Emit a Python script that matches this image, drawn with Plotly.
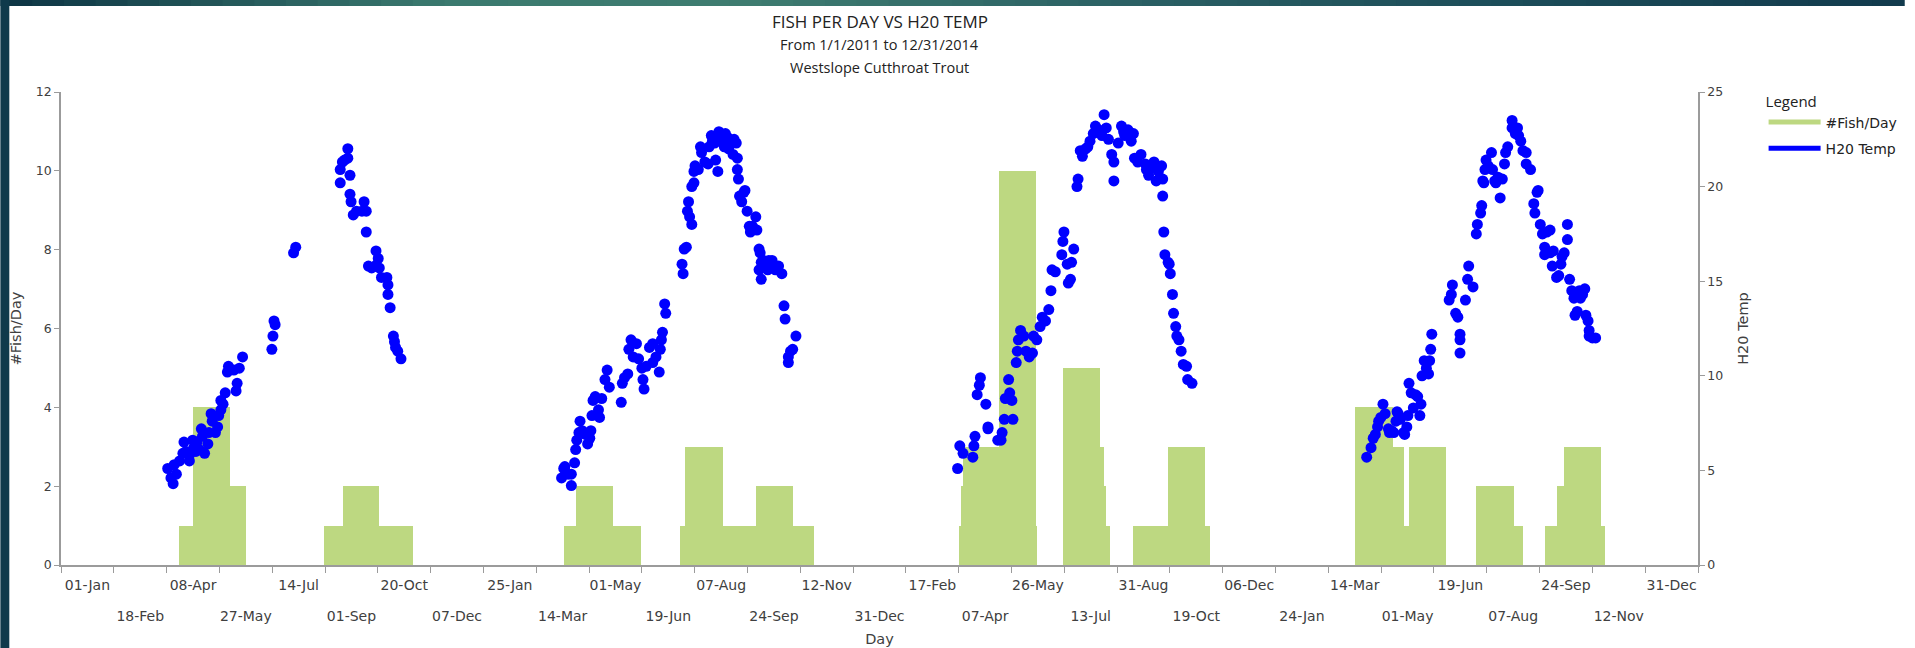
import pandas as pd
import plotly.graph_objects as go

BASE = pd.Timestamp("2011-01-01")
END = pd.Timestamp("2014-12-31")

# ---- #Fish/Day: runs of equal daily counts (days since 2011-01-01) ----
fish_start_day = [84, 97, 131, 218, 236, 269,
                  439, 450, 484, 546, 551, 586, 616, 650,
                  804, 805, 807, 840, 874, 899, 933, 937, 939, 964, 996, 1030,
                  1168, 1203, 1213, 1218, 1280, 1315, 1343, 1354, 1361, 1395]
fish_end_day = [97, 131, 146, 236, 269, 300,
                450, 484, 510, 551, 586, 616, 650, 670,
                805, 807, 840, 874, 875, 933, 937, 939, 942, 996, 1030, 1035,
                1203, 1213, 1218, 1252, 1315, 1323, 1354, 1361, 1395, 1399]
fish_per_day = [1, 4, 2, 1, 2, 1,
                1, 2, 1, 1, 3, 1, 2, 1,
                1, 2, 3, 10, 1, 5, 3, 2, 1, 1, 3, 1,
                4, 3, 1, 3, 2, 1, 1, 2, 3, 1]

# ---- H20 Temp readings (days since 2011-01-01, temperature) ----
temp_day = [
    74, 77, 79, 80, 82, 85, 88, 89, 91, 94, 95, 97, 98, 100, 101, 103, 105, 106, 108, 111, 112, 114, 115,
    118, 120, 121, 123, 123, 125, 127, 129, 130, 135, 137, 138, 140, 143,
    170, 171, 172, 173, 190, 192,
    233, 233, 235, 237, 240, 240, 242, 242, 243, 245, 248, 253, 255, 257, 257, 259, 262, 265, 266,
    268, 269, 271, 276, 277, 277, 279, 282, 283, 284, 286, 289,
    437, 439, 440, 443, 446, 446, 449, 450, 451, 453, 454, 456, 459, 461, 463, 464, 465, 466, 468,
    471, 472, 474, 477, 479, 481, 492, 493, 495, 498, 499, 501, 503, 506, 508, 511, 512, 513, 515,
    518, 521, 521, 524, 527, 528, 529, 530, 532, 533, 548, 549, 550, 552, 553, 554, 555, 557, 557,
    559, 559, 560, 563, 565, 566, 569, 572, 573, 575, 576, 578, 579, 580, 581, 582, 583, 585, 587,
    588, 590, 591, 593, 595, 596, 598, 599, 599, 600, 601, 603, 605, 606, 608, 610, 611, 613, 616,
    617, 619, 619, 620, 621, 621, 622, 623, 624, 627, 627, 628, 631, 634, 637, 640, 642, 643, 646,
    646, 648, 650, 653,
    802, 804, 807, 816, 817, 818, 820, 822, 823, 828, 830, 830, 839, 842, 843, 845, 846, 849, 850,
    852, 853, 856, 857, 858, 860, 863, 865, 868, 871, 872, 875, 878, 880, 883, 886, 888, 889, 892,
    898, 899, 900, 903, 904, 906, 907, 909, 912, 913, 915, 917, 920, 922, 924, 927, 929, 932, 935,
    937, 939, 941, 944, 946, 946, 950, 953, 955, 956, 959, 962, 964, 965, 968, 971, 975, 976, 978,
    981, 983, 985, 987, 990, 991, 991, 992, 993, 996, 997, 998, 1000, 1001, 1003, 1004, 1006, 1008,
    1010, 1013, 1014, 1018,
    1179, 1183, 1185, 1187, 1189, 1190, 1192, 1194, 1196, 1199, 1200, 1202, 1204, 1206, 1207, 1208,
    1210, 1213, 1214, 1216, 1217, 1218, 1220, 1222, 1224, 1226, 1228, 1229, 1230, 1232, 1234, 1236,
    1237, 1238, 1239, 1255, 1257, 1258, 1261, 1263, 1265, 1265, 1265, 1270, 1272, 1273, 1277, 1280,
    1281, 1284, 1285, 1286, 1287, 1288, 1289, 1291, 1294, 1295, 1297, 1298, 1300, 1302, 1304, 1306,
    1307, 1309, 1313, 1313, 1316, 1318, 1319, 1321, 1323, 1326, 1326, 1330, 1333, 1334, 1336, 1337,
    1339, 1341, 1343, 1343, 1345, 1348, 1348, 1350, 1351, 1354, 1356, 1358, 1359, 1361, 1364, 1364,
    1366, 1368, 1370, 1371, 1373, 1375, 1376, 1378, 1380, 1381, 1383, 1384, 1384, 1387, 1390,
]
temp_c = [
    5.1, 4.6, 4.3, 5.3, 4.8, 5.5, 5.9, 6.5, 6.0, 5.5, 5.9, 6.6, 6.2, 6.0, 6.5, 6.1, 7.2, 6.8, 5.9, 6.4, 7.0, 8.0, 7.6,
    7.0, 7.3, 7.9, 8.2, 8.7, 8.5, 9.1, 10.2, 10.5, 10.3, 9.2, 9.6, 10.4, 11.0,
    11.4, 12.1, 12.9, 12.7, 16.5, 16.8,
    20.2, 20.9, 21.3, 21.4, 22.0, 21.5, 20.6, 19.6, 19.2, 18.5, 18.7, 18.7, 19.2, 18.7, 17.6, 15.8, 15.7, 15.8, 16.6,
    16.2, 15.7, 15.2, 15.2, 14.8, 14.3, 13.6, 12.1, 11.8, 11.5, 11.3, 10.9,
    4.6, 5.1, 5.2, 4.8, 4.2, 4.8, 5.4, 6.1, 6.6, 7.0, 7.6, 7.1, 6.9, 6.4, 6.7, 7.1, 7.9, 8.7, 8.9,
    8.2, 7.8, 8.8, 9.8, 10.3, 9.4, 8.6, 9.6, 9.9, 10.1, 11.4, 11.9, 11.0, 11.7, 10.9, 10.4, 9.8, 9.3, 10.5,
    11.5, 11.7, 10.7, 11.0, 10.2, 11.4, 11.9, 12.3, 13.8, 13.3, 15.9, 15.4, 16.7, 16.8, 18.7, 19.2, 18.4, 18.0, 20.0,
    20.2, 20.8, 21.1, 20.9, 22.1, 21.8, 21.3, 21.2, 22.1, 22.7, 22.4, 22.3, 21.4, 22.7, 20.8, 22.9, 22.4, 22.4, 22.1,
    22.8, 22.6, 22.0, 22.3, 21.7, 22.5, 22.3, 21.5, 20.9, 20.4, 19.5, 19.2, 19.7, 19.8, 18.7, 17.9, 17.6, 17.9, 18.4,
    17.7, 16.7, 15.6, 16.5, 16.0, 15.1, 15.8, 16.1, 16.0, 15.6, 15.8, 16.1, 16.1, 15.6, 15.8, 15.4, 13.7, 13.0, 11.0,
    10.7, 11.3, 11.4, 12.1,
    5.1, 6.3, 5.9, 5.7, 6.3, 6.8, 9.0, 9.5, 9.9, 8.5, 7.2, 7.3, 6.6, 6.6, 7.0, 7.7, 8.8, 9.8, 9.1,
    8.7, 7.7, 10.7, 11.3, 11.9, 12.4, 12.1, 11.3, 11.0, 11.2, 12.1, 11.9, 12.6, 13.1, 12.9, 13.5, 14.5, 15.6, 15.5,
    16.4, 17.1, 17.6, 15.9, 14.9, 15.1, 16.0, 16.7, 20.0, 20.4, 21.9, 21.6, 22.0, 22.1, 22.4, 22.8, 23.2, 23.0, 22.7,
    23.8, 23.1, 22.5, 21.7, 21.3, 20.3, 22.3, 23.2, 22.9, 22.7, 23.0, 22.4, 22.8, 21.5, 21.3, 21.7, 21.2, 20.9, 20.6,
    21.0, 21.3, 20.3, 20.8, 21.1, 20.4, 19.5, 17.6, 16.4, 16.0, 15.9, 15.4, 14.3, 13.3, 12.6, 12.1, 11.9, 11.3,
    10.6, 10.5, 9.8, 9.6,
    5.7, 6.2, 6.7, 6.9, 7.3, 7.6, 7.8, 8.5, 8.0, 7.2, 7.0, 7.1, 7.0, 7.6, 8.1, 8.0,
    7.7, 7.0, 6.9, 7.3, 7.9, 9.6, 9.1, 8.3, 9.0, 8.9, 7.9, 8.5, 10.0, 10.8, 10.4, 10.1,
    10.8, 11.4, 12.2, 14.0, 14.3, 14.8, 13.3, 13.1, 12.2, 11.9, 11.2, 14.0, 15.1, 15.8, 14.7, 17.5,
    18.0, 18.6, 19.0, 20.3, 20.2, 20.9, 21.4, 21.1, 21.8, 20.9, 20.3, 20.2, 20.5, 19.4, 20.4, 21.2,
    21.8, 22.1, 23.5, 23.1, 22.8, 23.1, 22.7, 22.4, 21.9, 21.8, 21.2, 20.9, 19.1, 18.6, 19.7, 19.8,
    18.0, 17.5, 16.8, 16.4, 17.6, 17.7, 16.5, 15.8, 16.6, 15.2, 15.3, 15.9, 16.3, 16.5, 17.2, 18.0,
    15.1, 14.5, 14.1, 13.2, 13.4, 14.5, 14.1, 14.3, 14.6, 13.2, 12.9, 12.4, 12.1, 12.0, 12.0,
]

# ---- x-axis tick labels (evenly spaced from 01-Jan-2011 to 31-Dec-2014) ----
tick_labels = ["01-Jan", "18-Feb", "08-Apr", "27-May", "14-Jul", "01-Sep", "20-Oct", "07-Dec",
               "25-Jan", "14-Mar", "01-May", "19-Jun", "07-Aug", "24-Sep", "12-Nov", "31-Dec",
               "17-Feb", "07-Apr", "26-May", "13-Jul", "31-Aug", "19-Oct", "06-Dec", "24-Jan",
               "14-Mar", "01-May", "19-Jun", "07-Aug", "24-Sep", "12-Nov", "31-Dec"]

FISH_COLOR = "#BDD881"
TEMP_COLOR = "#0000FF"
AXIS_COLOR = "#9B9B9B"
TEXT_COLOR = "#404040"
XTICK_FONT = dict(family="DejaVu Sans", size=14, color=TEXT_COLOR)
YTICK_FONT = dict(family="DejaVu Sans", size=12.5, color=TEXT_COLOR)
AXTITLE_FONT = dict(family="DejaVu Sans", size=14.5, color=TEXT_COLOR)

W, H = 1915, 648
PL, PR, PT, PB = 61, 1708, 92, 565


def px_x(px):
    return (px - PL) / (PR - PL)


def px_y(py):
    return (PB - py) / (PB - PT)


def to_dates(days):
    return BASE + pd.to_timedelta(days, unit="D")


n = len(tick_labels)
step = (END - BASE) / (n - 1)
label_pos = [BASE + step * i for i in range(n)]
bound_pos = [BASE + step * (i - 0.5) for i in range(n + 1)]
x_range = [bound_pos[0], bound_pos[-1]]

fish_x = to_dates(fish_start_day)
fish_w = [(e - s) * 86400000 for s, e in zip(fish_start_day, fish_end_day)]

fig = go.Figure()
fig.add_trace(go.Bar(x=fish_x, y=fish_per_day, width=fish_w, offset=0,
                     marker=dict(color=FISH_COLOR, line=dict(width=0)),
                     name="#Fish/Day", showlegend=False, yaxis="y"))
fig.add_trace(go.Scatter(x=to_dates(temp_day), y=temp_c, mode="markers",
                         marker=dict(color=TEMP_COLOR, size=11, line=dict(width=0)),
                         name="H20 Temp", showlegend=False, yaxis="y2"))
# legend entries drawn as lines
fig.add_trace(go.Scatter(x=[None], y=[None], mode="lines", xaxis="x2", legendgroup="fish",
                         line=dict(color=FISH_COLOR, width=5), name="#Fish/Day"))
fig.add_trace(go.Scatter(x=[None], y=[None], mode="lines", xaxis="x2", legendgroup="temp",
                         line=dict(color=TEMP_COLOR, width=5), name="H20 Temp"))

# frame (dark teal border on top and left)
shapes = []
grad = [(0, (12, 52, 67)), (450, (59, 122, 111)), (750, (62, 124, 112)),
        (1150, (42, 95, 99)), (1550, (27, 75, 88)), (1915, (18, 58, 76))]
seg = 60
for k in range(seg):
    x0 = W * k / seg
    x1 = W * (k + 1) / seg
    xm = (x0 + x1) / 2
    for (a, ca), (b, cb) in zip(grad[:-1], grad[1:]):
        if a <= xm <= b:
            t = (xm - a) / (b - a)
            c = tuple(int(round(ca[j] + (cb[j] - ca[j]) * t)) for j in range(3))
            break
    shapes.append(dict(type="rect", xref="paper", yref="paper",
                       x0=px_x(x0), x1=px_x(x1 + 1), y0=px_y(6), y1=px_y(0),
                       fillcolor="rgb(%d,%d,%d)" % c, line=dict(width=0), layer="above"))
shapes.append(dict(type="rect", xref="paper", yref="paper",
                   x0=px_x(0), x1=px_x(9), y0=px_y(H), y1=px_y(0),
                   fillcolor="rgb(15,58,75)", line=dict(width=0), layer="above"))

title_lines = [("FISH PER DAY VS H20 TEMP", 17, 21),
               ("From 1/1/2011 to 12/31/2014", 14.5, 45),
               ("Westslope Cutthroat Trout", 14.5, 67)]
annotations = [dict(text=t, x=0.5, y=px_y(py), xref="paper", yref="paper",
                    xanchor="center", yanchor="middle", showarrow=False,
                    font=dict(family="Open Sans", size=s, color="#222222"))
               for t, s, py in title_lines]

fig.update_layout(
    width=W, height=H,
    margin=dict(l=PL, r=W - PR, t=PT, b=H - PB),
    paper_bgcolor="white", plot_bgcolor="white",
    bargap=0, barmode="overlay",
    shapes=shapes, annotations=annotations,
    showlegend=True,
    legend=dict(x=px_x(1774), y=px_y(87), xanchor="left", yanchor="top",
                title=dict(text="Legend", font=dict(family="Open Sans", size=15, color="#222222")),
                font=dict(family="DejaVu Sans", size=14, color="#222222"),
                bgcolor="rgba(0,0,0,0)", itemwidth=52, tracegroupgap=5),
    xaxis=dict(type="date", range=x_range, showgrid=False, zeroline=False,
               showline=True, linecolor=AXIS_COLOR, linewidth=1.5,
               tickmode="array", tickvals=label_pos[1::2], ticktext=tick_labels[1::2],
               ticks="", ticklabelstandoff=37, tickfont=XTICK_FONT, tickangle=0,
               minor=dict(tickmode="array", tickvals=bound_pos, ticks="outside",
                          ticklen=6, tickcolor=AXIS_COLOR, tickwidth=1, showgrid=False),
               title=dict(text="Day", standoff=11, font=AXTITLE_FONT),
               automargin=False, anchor="y"),
    xaxis2=dict(type="date", range=x_range, overlaying="x", anchor="y", side="bottom",
                showgrid=False, zeroline=False, showline=False,
                tickmode="array", tickvals=label_pos[0::2], ticktext=tick_labels[0::2],
                ticks="", ticklabelstandoff=10, tickfont=XTICK_FONT, tickangle=0,
                automargin=False),
    yaxis=dict(range=[0, 12], tickmode="array", tickvals=[0, 2, 4, 6, 8, 10, 12],
               showgrid=False, zeroline=False, showline=True, linecolor=AXIS_COLOR, linewidth=1.5,
               ticks="outside", ticklen=5, tickcolor=AXIS_COLOR, tickfont=YTICK_FONT,
               title=dict(text="#Fish/Day", standoff=11, font=AXTITLE_FONT),
               automargin=False),
    yaxis2=dict(range=[0, 25], tickmode="array", tickvals=[0, 5, 10, 15, 20, 25],
                overlaying="y", side="right", anchor="x",
                showgrid=False, zeroline=False, showline=True, linecolor=AXIS_COLOR, linewidth=1.5,
                ticks="outside", ticklen=5, tickcolor=AXIS_COLOR, tickfont=YTICK_FONT,
                title=dict(text="H20 Temp", standoff=16, font=AXTITLE_FONT),
                automargin=False),
)

fig.write_html(
    "out.html",
    config={"displayModeBar": False, "responsive": False},
    post_script=("var de=document.documentElement, b=document.body;"
                 "de.style.background='white'; b.style.background='white';"
                 "de.style.overflow='hidden'; de.style.scrollbarWidth='none';"
                 "b.style.margin='0px'; b.style.overflow='hidden';"),
)
